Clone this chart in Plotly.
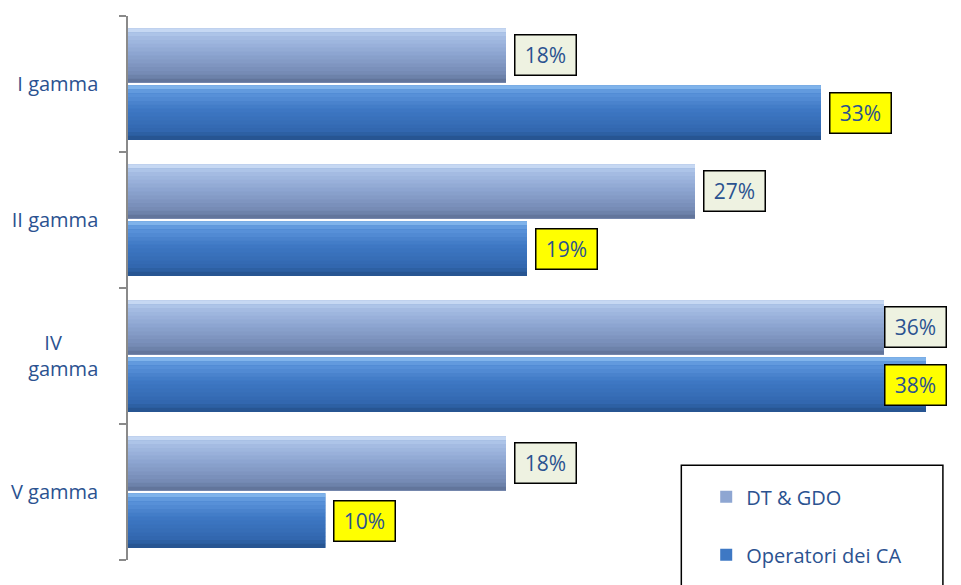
import plotly.graph_objects as go

categories = ["I gamma", "II gamma", "IV gamma", "V gamma"]
tick_text = ["I gamma", "II gamma", "IV\u00a0\u00a0\u00a0\u00a0\u00a0\u00a0\u00a0<br>gamma", "V gamma"]
dt_gdo = [18, 27, 36, 18]
operatori = [33, 19, 38, 9.4]
dt_labels = ["18%", "27%", "36%", "18%"]
op_labels = ["33%", "19%", "38%", "10%"]
series_names = ["DT & GDO", "Operatori dei CA"]

X_MAX = 39
BAR_W = 0.40
N_STRIPS = 14
FONT = "Open Sans"
TXT = "#2b5290"


def hex2rgb(h):
    h = h.lstrip("#")
    return tuple(int(h[i:i + 2], 16) for i in (0, 2, 4))


def interp(stops, t):
    for k in range(len(stops) - 1):
        t0, c0 = stops[k]
        t1, c1 = stops[k + 1]
        if t0 <= t <= t1:
            f = (t - t0) / (t1 - t0) if t1 > t0 else 0
            a, b = hex2rgb(c0), hex2rgb(c1)
            return "rgb(%d,%d,%d)" % tuple(round(a[j] + (b[j] - a[j]) * f) for j in range(3))
    return stops[-1][1]


light_stops = [(0, "#d2e2f8"), (0.12, "#a9c0e6"), (0.45, "#8ea6d2"), (0.85, "#7489b3"), (1, "#5d6f94")]
dark_stops = [(0, "#8ec0f2"), (0.12, "#5d95dc"), (0.45, "#3e78c4"), (0.85, "#3166ad"), (1, "#24508a")]

fig = go.Figure()
series = [(dt_gdo, -0.41, light_stops, "#8ea6d2", series_names[0]),
          (operatori, 0.01, dark_stops, "#3e78c4", series_names[1])]

for vals, off, stops, base, name in series:
    fig.add_trace(go.Bar(
        y=categories, x=vals, orientation="h", name=name,
        offset=off, width=BAR_W, marker=dict(color=base, line=dict(width=0)),
        legendgroup=name, showlegend=True, hoverinfo="skip"))
    sw = BAR_W / N_STRIPS
    for s in range(N_STRIPS):
        t = (s + 0.5) / N_STRIPS
        fig.add_trace(go.Bar(
            y=categories, x=vals, orientation="h",
            offset=off + s * sw, width=sw * 1.05,
            marker=dict(color=interp(stops, t), line=dict(width=0)),
            legendgroup=name, showlegend=False, hoverinfo="skip"))

annotations = []
for i in range(len(categories)):
    for vals, labels, off, bg in [(dt_gdo, dt_labels, -0.41, "#eef2e1"),
                                  (operatori, op_labels, 0.01, "#ffff00")]:
        v = vals[i]
        yc = i + off + BAR_W / 2
        if v + 3.2 > X_MAX:
            x, xa, xs = X_MAX, "right", 0
        else:
            x, xa, xs = v, "left", 8
        annotations.append(dict(
            x=x, y=yc, xref="x", yref="y", text=labels[i], showarrow=False,
            xanchor=xa, yanchor="middle", xshift=xs,
            font=dict(family=FONT, size=21, color=TXT),
            bgcolor=bg, bordercolor="#000000", borderwidth=1.5,
            borderpad=2, width=56, height=35))

fig.update_layout(
    width=961, height=585,
    margin=dict(l=120, r=22, t=8, b=33, autoexpand=False),
    paper_bgcolor="white", plot_bgcolor="white",
    barmode="overlay",
    font=dict(family=FONT, size=20, color=TXT),
    annotations=annotations,
    shapes=[dict(type="rect", xref="paper", yref="paper",
                 x0=0.6756, x1=0.995, y0=0.1743, y1=-0.08,
                 line=dict(color="#000000", width=1.5), fillcolor="white",
                 layer="below")],
    showlegend=True,
    legend=dict(
        x=0.706, y=0.152, xanchor="left", yanchor="top",
        bgcolor="rgba(0,0,0,0)", borderwidth=0,
        font=dict(family=FONT, size=20, color=TXT),
        traceorder="grouped", tracegroupgap=29,
        itemwidth=30,
    ),
    xaxis=dict(range=[0, X_MAX], visible=False, showgrid=False, zeroline=False),
    yaxis=dict(
        type="category", categoryorder="array", categoryarray=categories,
        tickvals=categories, ticktext=tick_text, automargin=False,
        autorange=False, range=[3.5, -0.5],
        showline=True, linecolor="#8a8a8a", linewidth=1.5,
        ticks="outside", ticklen=7, tickcolor="#8a8a8a", tickwidth=1.5,
        tickson="boundaries", showgrid=False, ticklabelstandoff=24,
        tickfont=dict(family=FONT, size=20, color=TXT),
    ),
)

fig.write_html("out.html")
